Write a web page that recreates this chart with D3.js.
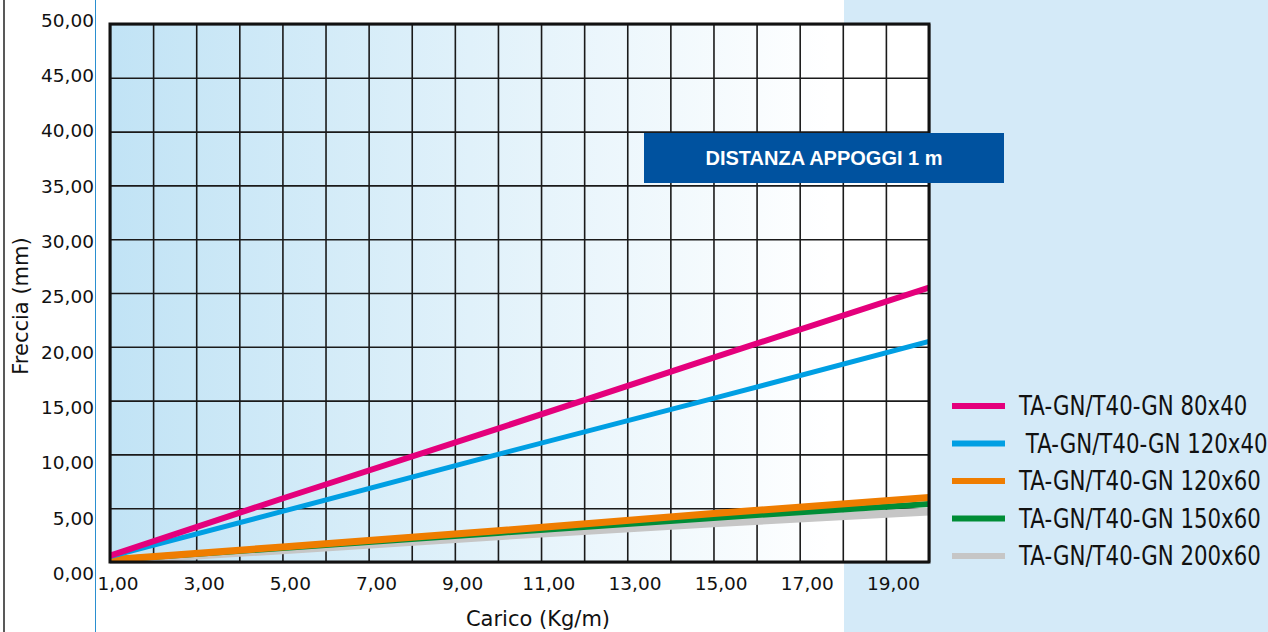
<!DOCTYPE html>
<html>
<head>
<meta charset="utf-8">
<title>Freccia - distanza appoggi 1 m</title>
<script src="https://d3js.org/d3.v7.min.js"></script>
<style>
  html, body { margin: 0; padding: 0; background: #fff; }
  svg { display: block; }
  .tick-label { font-family: "DejaVu Sans", Verdana, sans-serif; font-size: 18.5px; fill: #111; }
  .axis-title { font-family: "DejaVu Sans", Verdana, sans-serif; font-size: 21px; fill: #111; }
  .legend text { font-family: "DejaVu Sans", sans-serif; font-size: 26px; fill: #111; white-space: pre; }
  .badge text { font-family: "Liberation Sans", Arial, sans-serif; font-weight: bold; font-size: 20px; fill: #fff; }
</style>
</head>
<body>
<svg width="1268" height="632"></svg>
<script>
// load values (Kg/m) at which the curves were read
var loads = [1, 5, 10, 15, 20];

// deflection (mm) per profile
var f80x40  = [0.6, 5.9, 12.4, 19.0, 25.5];
var f120x40 = [0.5, 4.7, 10.0, 15.2, 20.5];
var f120x60 = [0.2, 1.4, 2.9, 4.5, 6.0];
var f150x60 = [0.2, 1.3, 2.7, 4.1, 5.4];
var f200x60 = [0.1, 1.1, 2.4, 3.6, 4.7];

var seriesNames = ["TA-GN/T40-GN 80x40", " TA-GN/T40-GN 120x40", "TA-GN/T40-GN 120x60",
                   "TA-GN/T40-GN 150x60", "TA-GN/T40-GN 200x60"];
var seriesColors = ["#e4007c", "#009fe3", "#ef7d00", "#008d36", "#c6c6c6"];
var seriesWidths = [6, 5, 7, 6, 8];

var xTicks = [1, 3, 5, 7, 9, 11, 13, 15, 17, 19];
var yTicks = [0, 5, 10, 15, 20, 25, 30, 35, 40, 45, 50];

var series = [f80x40, f120x40, f120x60, f150x60, f200x60].map(function (vals, i) {
  return {
    name: seriesNames[i],
    color: seriesColors[i],
    width: seriesWidths[i],
    values: vals.map(function (v, j) { return { x: loads[j], y: v }; })
  };
});

var svg = d3.select("svg");
var W = 1268, H = 632;
var plot = { left: 110, right: 929, top: 24, bottom: 562 };

var x = d3.scaleLinear().domain([1, 20]).range([plot.left, plot.right]);
var y = d3.scaleLinear().domain([0, 50]).range([plot.bottom, plot.top]);
// tick labels sit slightly off the grid in the original
var xLab = d3.scaleLinear().domain([1, 19]).range([118, 893.5]);
var yLab = d3.scaleLinear().domain([0, 50]).range([573.5, 20]);

// right side light blue panel
svg.append("rect")
  .attr("x", 844).attr("y", 0)
  .attr("width", W - 844).attr("height", H)
  .attr("fill", "#d4eaf8");

// page rules
svg.append("line")
  .attr("x1", 4).attr("x2", 4).attr("y1", 0).attr("y2", H)
  .attr("stroke", "#222").attr("stroke-width", 1.5);
svg.append("line")
  .attr("x1", 95.5).attr("x2", 95.5).attr("y1", 0).attr("y2", H)
  .attr("stroke", "#2a8fd0").attr("stroke-width", 1);

// plot background gradient
var grad = svg.append("defs").append("linearGradient")
  .attr("id", "bg").attr("x1", "0%").attr("x2", "100%").attr("y1", "0%").attr("y2", "0%");
grad.append("stop").attr("offset", "0%").attr("stop-color", "#c1e3f5");
grad.append("stop").attr("offset", "88%").attr("stop-color", "#ffffff");
grad.append("stop").attr("offset", "100%").attr("stop-color", "#ffffff");

svg.append("rect")
  .attr("x", plot.left).attr("y", plot.top)
  .attr("width", plot.right - plot.left).attr("height", plot.bottom - plot.top)
  .attr("fill", "url(#bg)");

// grid
var g = svg.append("g");
g.append("g")
  .attr("transform", "translate(0," + plot.bottom + ")")
  .call(d3.axisBottom(x).ticks(19).tickSize(-(plot.bottom - plot.top)).tickFormat(""))
  .call(function (s) { s.select(".domain").remove(); })
  .selectAll("line").attr("stroke", "#1a1a1a").attr("stroke-width", 1.6);
g.append("g")
  .attr("transform", "translate(" + plot.left + ",0)")
  .call(d3.axisLeft(y).tickValues(yTicks).tickSize(-(plot.right - plot.left)).tickFormat(""))
  .call(function (s) { s.select(".domain").remove(); })
  .selectAll("line").attr("stroke", "#1a1a1a").attr("stroke-width", 1.6);

// curves
var line = d3.line().x(function (d) { return x(d.x); }).y(function (d) { return y(d.y); });
svg.append("clipPath").attr("id", "clip").append("rect")
  .attr("x", plot.left).attr("y", plot.top)
  .attr("width", plot.right - plot.left).attr("height", plot.bottom - plot.top);

svg.append("g").attr("clip-path", "url(#clip)")
  .selectAll("path")
  .data(series.slice().reverse())
  .enter().append("path")
  .attr("d", function (d) { return line(d.values); })
  .attr("fill", "none")
  .attr("stroke", function (d) { return d.color; })
  .attr("stroke-width", function (d) { return d.width; });

// frame
svg.append("rect")
  .attr("x", plot.left).attr("y", plot.top)
  .attr("width", plot.right - plot.left).attr("height", plot.bottom - plot.top)
  .attr("fill", "none").attr("stroke", "#111").attr("stroke-width", 3);

// tick labels
var fmt = function (v) { return d3.format(".2f")(v).replace(".", ","); };
svg.append("g").selectAll("text")
  .data(xTicks).enter().append("text")
  .attr("class", "tick-label")
  .attr("x", function (d) { return xLab(d); })
  .attr("y", 590)
  .attr("text-anchor", "middle")
  .text(fmt);
svg.append("g").selectAll("text")
  .data(yTicks).enter().append("text")
  .attr("class", "tick-label")
  .attr("x", 94)
  .attr("y", function (d) { return yLab(d); })
  .attr("dy", "0.36em")
  .attr("text-anchor", "end")
  .text(fmt);

// axis titles
svg.append("text")
  .attr("class", "axis-title")
  .attr("x", 538).attr("y", 626)
  .attr("text-anchor", "middle")
  .text("Carico (Kg/m)");
svg.append("text")
  .attr("class", "axis-title")
  .attr("transform", "translate(28,306) rotate(-90)")
  .attr("text-anchor", "middle")
  .text("Freccia (mm)");

// badge
var badge = svg.append("g").attr("class", "badge");
badge.append("rect")
  .attr("x", 644).attr("y", 133).attr("width", 360).attr("height", 50)
  .attr("fill", "#00529f");
badge.append("text")
  .attr("x", 824).attr("y", 165)
  .attr("text-anchor", "middle")
  .text("DISTANZA APPOGGI 1 m");

// legend
var legend = svg.append("g").attr("class", "legend")
  .selectAll("g")
  .data(series).enter().append("g")
  .attr("transform", function (d, i) { return "translate(952," + (406 + i * 37.5) + ")"; });
legend.append("line")
  .attr("x1", 0).attr("x2", 53)
  .attr("stroke", function (d) { return d.color; })
  .attr("stroke-width", 6);
// the legend face is narrow, squeeze it horizontally
legend.append("text")
  .attr("transform", "translate(67,9) scale(0.82,1)")
  .text(function (d) { return d.name; });
</script>
</body>
</html>
